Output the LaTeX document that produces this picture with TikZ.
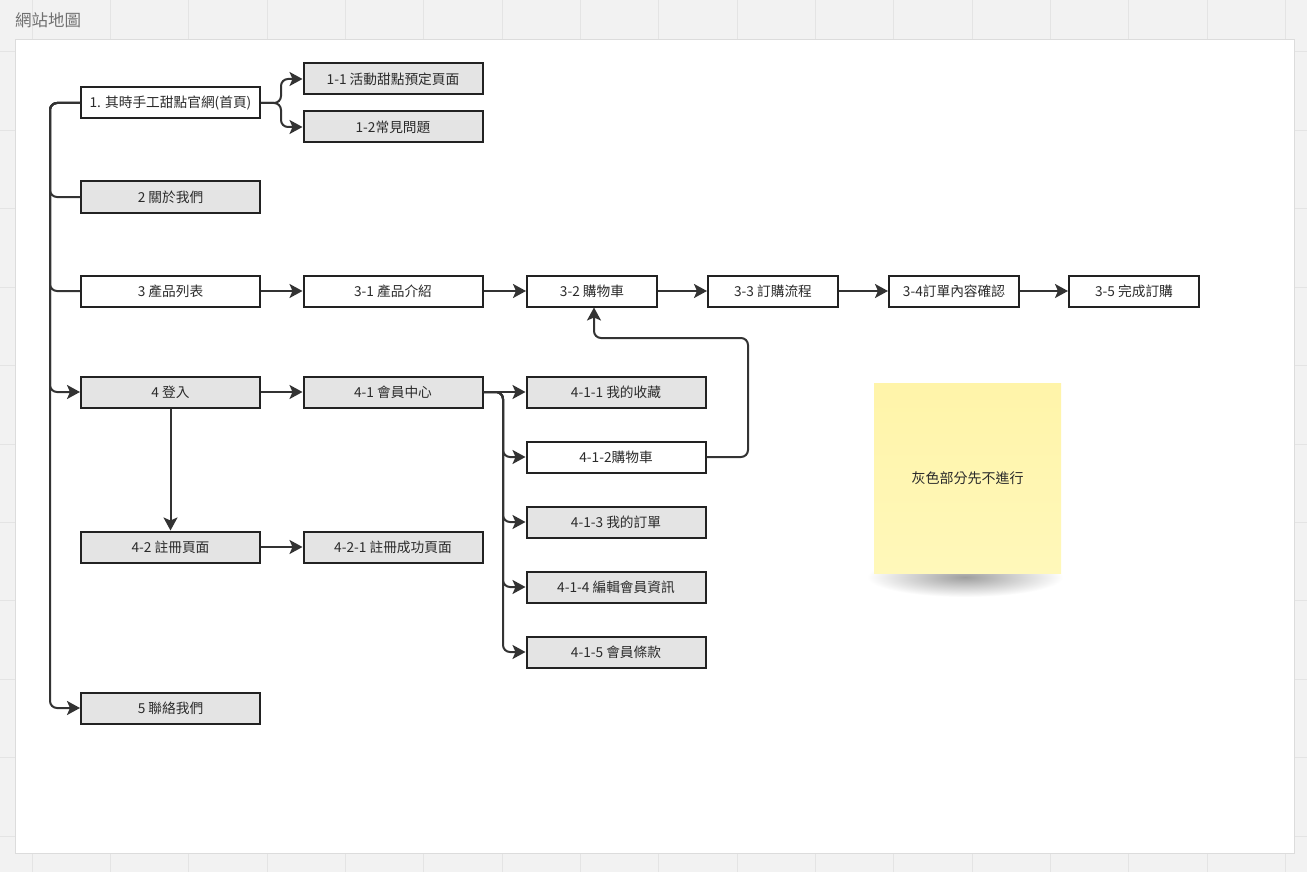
\documentclass[tikz,border=0pt]{standalone}
\usepackage{fontspec}
\setmainfont{Noto Sans CJK TC}
\usetikzlibrary{arrows.meta}
\definecolor{bggray}{HTML}{F2F2F2}
\definecolor{gridc}{HTML}{E4E4E4}
\definecolor{framec}{HTML}{DCDCDC}
\definecolor{boxgray}{HTML}{E4E4E4}
\definecolor{inkc}{HTML}{222222}
\definecolor{linec}{HTML}{333333}
\definecolor{txtc}{HTML}{2B2B2B}
\definecolor{titlec}{HTML}{707070}
\definecolor{stickytop}{HTML}{FFF4A9}
\definecolor{stickybot}{HTML}{FFF8BA}
\tikzset{
  pagebox/.style={draw=inkc, line width=2pt, minimum height=31pt, inner sep=0pt,
    text=txtc, font=\fontsize{13.7}{15}\selectfont},
  wide/.style={minimum width=179pt},
  narrow/.style={minimum width=130pt},
  grayfill/.style={fill=boxgray},
  whitefill/.style={fill=white},
  conn/.style={draw=linec, line width=2pt, rounded corners=7pt},
  arr/.style={conn, -{Stealth[length=13pt,width=14pt,inset=3pt]}},
}
\begin{document}
\begin{tikzpicture}[x=1pt,y=-1pt]
\useasboundingbox (0,0) rectangle (1307,872);
\fill[bggray] (0,0) rectangle (1307,872);
\foreach \i in {0,...,16} {
  \draw[gridc, line width=1pt] ({32+78.35*\i},0) -- ({32+78.35*\i},872);
}
\foreach \j in {0,...,10} {
  \draw[gridc, line width=1pt] (0,{52+78.4*\j}) -- (1307,{52+78.4*\j});
}
\draw[framec, fill=white, line width=1pt] (15,40) rectangle (1294,853);
\node[anchor=west, text=titlec, font=\fontsize{16.5}{18}\selectfont, inner sep=0pt] (title) at (15,20) {網站地圖};

% nodes (centres)
\node[pagebox,wide,whitefill] (n1) at (170.5,103) {1. 其時手工甜點官網(首頁)};
\node[pagebox,wide,grayfill] (n11) at (393,79) {1-1 活動甜點預定頁面};
\node[pagebox,wide,grayfill] (n12) at (393,127) {1-2常見問題};
\node[pagebox,wide,grayfill] (n2) at (170.5,197) {2 關於我們};
\node[pagebox,wide,whitefill] (n3) at (170.5,291) {3 產品列表};
\node[pagebox,wide,whitefill] (n31) at (393,291) {3-1 產品介紹};
\node[pagebox,narrow,whitefill] (n32) at (592,291) {3-2 購物車};
\node[pagebox,narrow,whitefill] (n33) at (773,291) {3-3 訂購流程};
\node[pagebox,narrow,whitefill] (n34) at (954,291) {3-4訂單內容確認};
\node[pagebox,narrow,whitefill] (n35) at (1134,291) {3-5 完成訂購};
\node[pagebox,wide,grayfill] (n4) at (170.5,392) {4 登入};
\node[pagebox,wide,grayfill] (n41) at (393,392) {4-1 會員中心};
\node[pagebox,wide,grayfill] (n411) at (616,392) {4-1-1 我的收藏};
\node[pagebox,wide,whitefill] (n412) at (616,457) {4-1-2購物車};
\node[pagebox,wide,grayfill] (n413) at (616,522) {4-1-3 我的訂單};
\node[pagebox,wide,grayfill] (n414) at (616,587) {4-1-4 編輯會員資訊};
\node[pagebox,wide,grayfill] (n415) at (616,652) {4-1-5 會員條款};
\node[pagebox,wide,grayfill] (n42) at (170.5,547) {4-2 註冊頁面};
\node[pagebox,wide,grayfill] (n421) at (393,547) {4-2-1 註冊成功頁面};
\node[pagebox,wide,grayfill] (n5) at (170.5,708) {5 聯絡我們};

% sticky note shadow
\shade[inner color=black!38, outer color=white] (965,577) ellipse (98pt and 20pt);
% sticky note
\node[anchor=north west, minimum width=187pt, minimum height=190pt, inner sep=0pt,
  top color=stickytop, bottom color=stickybot, text=txtc, font=\fontsize{14}{16}\selectfont]
  (note) at (874,383) {灰色部分先不進行};

% connectors
\coordinate (t1) at (50,103);
\draw[conn] (n1.west) -- (t1) |- (n2.west);
\draw[conn] (n1.west) -- (t1) |- (n3.west);
\draw[arr] (n1.west) -- (t1) |- (n4.west);
\draw[arr] (n1.west) -- (t1) |- (n5.west);

\coordinate (b1) at (281,103);
\draw[arr] (n1.east) -- (b1) |- (n11.west);
\draw[arr] (n1.east) -- (b1) |- (n12.west);

\draw[arr] (n3.east) -- (n31.west);
\draw[arr] (n31.east) -- (n32.west);
\draw[arr] (n32.east) -- (n33.west);
\draw[arr] (n33.east) -- (n34.west);
\draw[arr] (n34.east) -- (n35.west);

\draw[arr] (n4.east) -- (n41.west);
\draw[arr] (n4.south) -- (n42.north);
\draw[arr] (n42.east) -- (n421.west);

\coordinate (b4) at (503,392);
\draw[arr] (n41.east) -- (n411.west);
\draw[arr] (n41.east) -- (b4) |- (n412.west);
\draw[arr] (n41.east) -- (b4) |- (n413.west);
\draw[arr] (n41.east) -- (b4) |- (n414.west);
\draw[arr] (n41.east) -- (b4) |- (n415.west);

\coordinate (c1) at (748,457);
\coordinate (c2) at (748,338);
\coordinate (c3) at (594,338);
\draw[arr] (n412.east) -- (c1) -- (c2) -- (c3) -- (n32.south -| c3);
\end{tikzpicture}
\end{document}
